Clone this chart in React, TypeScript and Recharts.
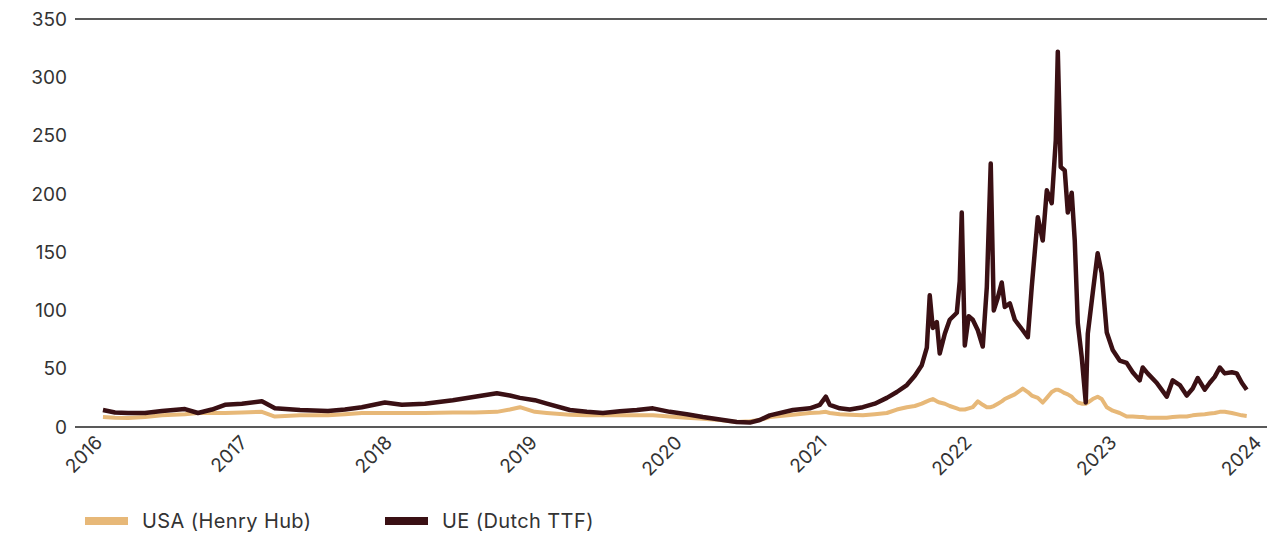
import React from 'react';
import { LineChart, Line, XAxis, YAxis, ReferenceLine, Legend } from 'recharts';

// decimal years
const dates: number[] = [
  2016.0, 2016.083, 2016.173, 2016.29, 2016.407, 2016.566, 2016.656, 2016.752, 2016.842, 2016.959,
  2017.097, 2017.187, 2017.36, 2017.553, 2017.67, 2017.787, 2017.946, 2018.063, 2018.222, 2018.415,
  2018.567, 2018.719, 2018.809, 2018.878, 2018.981, 2019.064, 2019.223, 2019.34, 2019.451, 2019.568,
  2019.685, 2019.796, 2019.913, 2020.03, 2020.141, 2020.258, 2020.375, 2020.465, 2020.534, 2020.603,
  2020.762, 2020.879, 2020.948, 2020.99, 2021.017, 2021.086, 2021.155, 2021.245, 2021.328, 2021.411,
  2021.48, 2021.549, 2021.604, 2021.652, 2021.687, 2021.707, 2021.728, 2021.756, 2021.776, 2021.811,
  2021.845, 2021.894, 2021.914, 2021.928, 2021.949, 2021.976, 2022.004, 2022.039, 2022.073, 2022.101,
  2022.128, 2022.149, 2022.177, 2022.204, 2022.225, 2022.26, 2022.294, 2022.349, 2022.384, 2022.411,
  2022.453, 2022.487, 2022.515, 2022.549, 2022.577, 2022.591, 2022.611, 2022.639, 2022.66, 2022.687,
  2022.708, 2022.729, 2022.756, 2022.784, 2022.798, 2022.832, 2022.866, 2022.894, 2022.929, 2022.97,
  2023.018, 2023.066, 2023.108, 2023.156, 2023.177, 2023.211, 2023.273, 2023.343, 2023.384, 2023.433,
  2023.481, 2023.522, 2023.557, 2023.605, 2023.64, 2023.674, 2023.709, 2023.743, 2023.792, 2023.826,
  2023.861, 2023.895,
];

const ttf: number[] = [
  14.6, 12.5, 12, 12, 13.7, 15.4, 12, 15, 19, 20,
  22, 16, 14.5, 13.7, 15, 17, 21, 19, 20, 23,
  26, 29, 27, 25, 23, 20, 14.6, 13, 12, 13.5,
  14.6, 16, 13, 11, 8.6, 6.5, 4.3, 3.8, 6, 10,
  14.6, 16, 19, 26, 19, 16, 15, 17, 20, 25,
  30, 36, 44, 53, 68, 113, 85, 90, 63, 80,
  92, 98, 125, 184, 70, 95, 92, 83, 69, 120,
  226, 100, 111, 124, 103, 106, 92, 83, 77, 120,
  180, 160, 203, 192, 246, 322, 223, 220, 184, 201,
  160, 89, 60, 21, 80, 115, 149, 132, 81, 66,
  57, 55, 47, 40, 51, 46, 38, 26, 40, 36,
  27, 33, 42, 32, 38, 43, 51, 46, 47, 46,
  38, 32,
];

const henryHub: number[] = [
  8.6, 8, 7.7, 8.5, 10, 11, 12, 12, 12, 12.5,
  13, 9, 10, 10, 11, 12, 12, 12, 12, 12.5,
  12.5, 13, 15, 17, 13, 12, 10.5, 10, 10, 10,
  10, 10, 9, 8, 7, 6, 4.3, 5, 6, 8.6,
  10.5, 12, 12.5, 13, 12, 11, 10.5, 10, 11, 12,
  15, 17, 18, 20, 22, 23, 24, 22, 21, 20,
  18, 16, 15, 15, 15, 16, 17, 22, 19, 17,
  17, 18, 20, 22, 24, 26, 28, 33, 30, 27,
  25, 21, 25, 30, 32, 32, 31, 29, 28, 26,
  23, 21, 20, 20, 21, 24, 26, 24, 17, 14,
  12, 9, 9, 8.5, 8.5, 8, 8, 8, 8.5, 9,
  9, 10, 10.5, 11, 11.5, 12, 13, 13, 12, 11,
  10, 9.5,
];

const yTicks: number[] = [0, 50, 100, 150, 200, 250, 300, 350];
const xTicks: number[] = [2016, 2017, 2018, 2019, 2020, 2021, 2022, 2023, 2024];

const seriesNames = { hh: 'USA (Henry Hub)', ttf: 'UE (Dutch TTF)' };
const TAN = '#e7b878';
const DARK = '#3a1014';
const FONT = 'Inter, "Open Sans", sans-serif';

const data = dates.map((t, i) => ({ t, ttf: ttf[i], hh: henryHub[i] }));

const XTick = (props: any) => {
  const { x, y, payload } = props;
  return (
    <g transform={`translate(${x - 4},${y + 4})`}>
      <text
        transform="rotate(-45)"
        textAnchor="end"
        dy="0.35em"
        fill="#333"
        fontSize={19}
        fontFamily={FONT}
      >
        {payload.value}
      </text>
    </g>
  );
};

const LegendContent = () => (
  <div style={{ height: 39, position: 'relative', fontFamily: FONT, fontSize: 20, color: '#333' }}>
    {[
      { name: seriesNames.hh, color: TAN, left: 85 },
      { name: seriesNames.ttf, color: DARK, left: 385 },
    ].map((it) => (
      <div
        key={it.name}
        style={{ position: 'absolute', left: it.left, top: 12, display: 'flex', alignItems: 'center' }}
      >
        <span style={{ display: 'inline-block', width: 43, height: 8, background: it.color, marginRight: 14 }} />
        <span style={{ letterSpacing: 0.4 }}>{it.name}</span>
      </div>
    ))}
  </div>
);

export default function App() {
  return (
    <div style={{ position: 'absolute', left: 0, top: 0, background: '#fff' }}>
      <LineChart width={1267} height={536} data={data} margin={{ top: 19, right: 0, left: 0, bottom: 0 }}>
        <XAxis
          dataKey="t"
          type="number"
          domain={[2015.807, 2024.035]}
          ticks={xTicks}
          allowDataOverflow
          interval={0}
          height={70}
          tickLine={false}
          axisLine={{ stroke: '#222', strokeWidth: 1.5 }}
          tick={<XTick />}
        />
        <YAxis
          type="number"
          domain={[0, 350]}
          ticks={yTicks}
          width={75}
          axisLine={false}
          tickLine={false}
          tick={{ fill: '#333', fontSize: 19, fontFamily: FONT }}
        />
        <ReferenceLine y={350} stroke="#222" strokeWidth={1.3} />
        <Legend verticalAlign="bottom" align="left" content={<LegendContent />} wrapperStyle={{ left: 0, width: 1267 }} />
        <Line
          type="linear"
          dataKey="hh"
          name={seriesNames.hh}
          stroke={TAN}
          strokeWidth={4}
          dot={false}
          isAnimationActive={false}
          strokeLinejoin="round"
        />
        <Line
          type="linear"
          dataKey="ttf"
          name={seriesNames.ttf}
          stroke={DARK}
          strokeWidth={4.5}
          dot={false}
          isAnimationActive={false}
          strokeLinejoin="round"
        />
      </LineChart>
    </div>
  );
}
